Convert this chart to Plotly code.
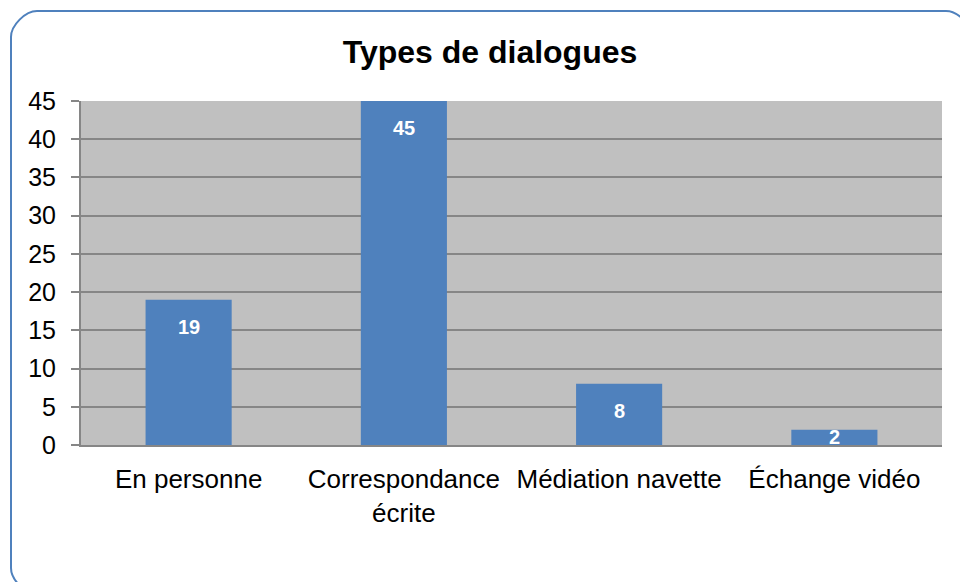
import plotly.graph_objects as go

categories = ["En personne", "Correspondance<br>écrite", "Médiation navette", "Échange vidéo"]
counts = [19, 45, 8, 2]
y_ticks = [0, 5, 10, 15, 20, 25, 30, 35, 40, 45]

W, H = 960, 582
# plot area in pixels
L, R, T, B = 81, 942, 101, 445
pw, ph = R - L, B - T

def px(x):
    return (x - L) / pw

def py(y):
    return (B - y) / ph

fig = go.Figure()
fig.add_trace(go.Bar(
    x=categories, y=counts, width=0.4,
    marker=dict(color="#4F81BD", line=dict(width=0)),
    hoverinfo="skip", showlegend=False,
))

# value labels inside bars, near the top
for c, v in zip(categories, counts):
    h = v * ph / 45
    off = min(27, h / 2)
    fig.add_annotation(x=c, y=v, text="<b>%d</b>" % v, showarrow=False,
                       yanchor="middle", yshift=-off,
                       font=dict(family="Liberation Sans, Arial", size=20, color="white"))

# rounded border of the chart area
x0, y0, x1, y1, r = 11, 11, 972, 594, 26
k = 0.45 * r
path = (f"M {px(x0+r)},{py(y0)} L {px(x1-r)},{py(y0)} "
        f"C {px(x1-r+k)},{py(y0)} {px(x1)},{py(y0+r-k)} {px(x1)},{py(y0+r)} "
        f"L {px(x1)},{py(y1-r)} "
        f"C {px(x1)},{py(y1-r+k)} {px(x1-r+k)},{py(y1)} {px(x1-r)},{py(y1)} "
        f"L {px(x0+r)},{py(y1)} "
        f"C {px(x0+r-k)},{py(y1)} {px(x0)},{py(y1-r+k)} {px(x0)},{py(y1-r)} "
        f"L {px(x0)},{py(y0+r)} "
        f"C {px(x0)},{py(y0+r-k)} {px(x0+r-k)},{py(y0)} {px(x0+r)},{py(y0)} Z")
fig.add_shape(type="path", path=path, xref="paper", yref="paper",
              line=dict(color="#4F81BD", width=2), layer="above")

fig.update_layout(
    width=W, height=H,
    margin=dict(l=L, r=W - R, t=T, b=H - B, autoexpand=False),
    paper_bgcolor="white", plot_bgcolor="#C0C0C0",
    font=dict(family="Liberation Sans, Arial", size=26, color="black"),
    title=dict(text="<b>Types de dialogues</b>", x=490 / W, xanchor="center",
               y=1 - 52 / H, yanchor="middle", yref="container",
               font=dict(size=32, color="black")),
    bargap=0.6,
    xaxis=dict(showgrid=False, zeroline=False, showline=True, linecolor="#868686",
               linewidth=2, ticks="", ticklabelstandoff=10, tickangle=0, fixedrange=True),
    yaxis=dict(range=[0, 45], tickvals=y_ticks, showgrid=True, gridcolor="#868686",
               gridwidth=2, zeroline=False, showline=True, linecolor="#868686", linewidth=2,
               ticks="outside", ticklen=8, tickcolor="#868686", tickwidth=2,
               tickfont=dict(size=25), ticklabelstandoff=10, fixedrange=True),
)

# drop the default page margin so the figure sits at the window corner
fig.write_html("out.html", config={"displayModeBar": False},
               post_script="document.body.style.margin='0';")
